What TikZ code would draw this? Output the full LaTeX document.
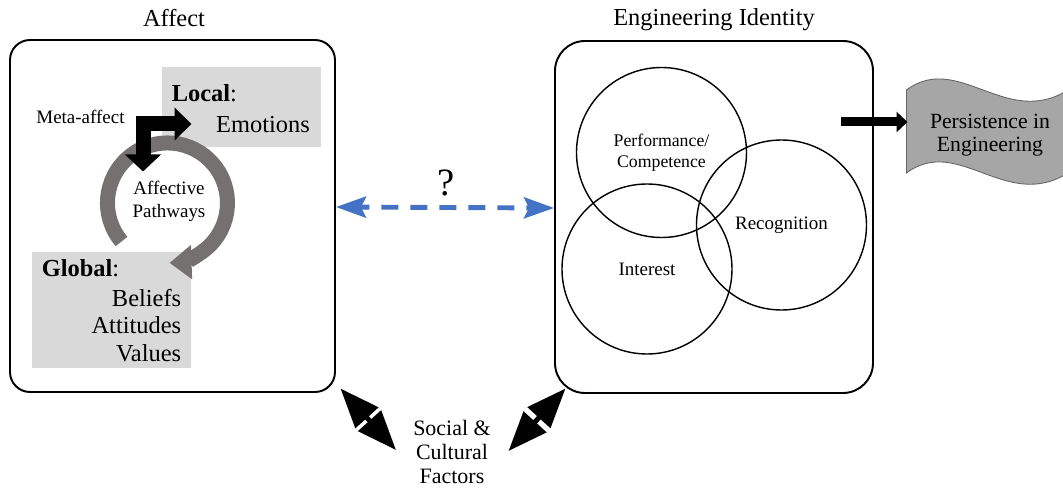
\documentclass[tikz,border=0pt]{standalone}
\usepackage{fontspec}
\setmainfont{Liberation Serif}
\usepackage{tikz}
\usetikzlibrary{arrows.meta}
\definecolor{panelgray}{RGB}{217,217,217}
\definecolor{ringgray}{RGB}{118,113,113}
\definecolor{flaggray}{RGB}{166,166,166}
\definecolor{linkblue}{RGB}{68,114,196}
\tikzset{boxframe/.style={draw, line width=1.1pt, minimum height=7.04cm}}
\tikzset{venn/.style={draw, circle, line width=0.8pt, minimum size=3.4cm, align=center, font=\fontsize{10.8}{13}\selectfont}}
\newcommand{\fsocial}[2]{\draw[line width=2.8pt, {Triangle[length=0.79cm, width=0.6cm]}-{Triangle[length=0.79cm, width=0.6cm]}] (#1) -- (#2);}

\begin{document}
\begin{tikzpicture}
\clip (0,0) rectangle (21.26,9.78);
\node[boxframe, rounded corners=0.4cm, minimum width=6.5cm] (affectbox) at (3.45,5.46) {};
\node[boxframe, rounded corners=0.6cm, minimum width=6.36cm] (identitybox) at (14.28,5.44) {};
\node[font=\fontsize{13.9}{16}\selectfont] (affecttitle) at (3.48,9.42) {Affect};
\node[font=\fontsize{13.9}{16}\selectfont] (identitytitle) at (14.28,9.38) {Engineering Identity};
% local / global panels and the pathway loop
\fill[panelgray] (3.23,6.83) rectangle (6.42,8.43);
\fill[panelgray] (0.63,2.41) rectangle (3.81,4.73);
\draw[ringgray, line width=0.3cm, -{Triangle[length=0.44cm, width=0.66cm]}] (2.43,4.95) arc[start angle=220, end angle=-88, radius=1.2];
\coordinate (metatip) at (2.86,6.35);
\coordinate (localtip) at (3.83,7.30);
\draw[line width=0.3cm, line join=miter, {Triangle[length=0.34cm, width=0.7cm]}-{Triangle[length=0.34cm, width=0.64cm]}] (metatip) |- (localtip);
\node[anchor=west, inner sep=0, font=\fontsize{13.9}{16}\selectfont] (local) at (3.43,7.92) {\textbf{Local}:};
\node[inner sep=0, font=\fontsize{13.9}{16}\selectfont] (emotions) at (5.26,7.28) {Emotions};
\node[font=\fontsize{10.8}{13}\selectfont] (meta) at (1.61,7.44) {Meta-affect};
\node[anchor=west, inner sep=0, font=\fontsize{13.9}{16}\selectfont] (global) at (0.83,4.42) {\textbf{Global}:};
\node[anchor=east, inner sep=0, align=right, font=\fontsize{13.9}{15.6}\selectfont] (beliefs) at (3.63,3.27) {Beliefs\\Attitudes\\Values};
\node[align=center, font=\fontsize{10.8}{13.1}\selectfont] (pathways) at (3.38,5.75) {Affective\\Pathways};
% identity circles
\node[venn, font=\fontsize{10.1}{12}\selectfont] (competence) at (13.23,6.73) {Performance/\\Competence};
\node[venn] (interest) at (12.94,4.40) {Interest};
\node[venn] (recognition) at (15.63,5.28) {Recognition};
\draw[linkblue, line width=2.8pt, dash pattern=on 9.7pt off 6.8pt, dash phase=4pt, {Stealth[length=0.6cm, width=0.42cm, inset=0.1cm]}-{Stealth[length=0.6cm, width=0.42cm, inset=0.1cm]}] ([yshift=0.18cm]affectbox.east) -- ([yshift=0.18cm]identitybox.west);
\node[font=\fontsize{22}{26}\selectfont] (unknown) at (8.92,6.12) {?};
\filldraw[fill=flaggray, draw=gray!80!black, line width=0.5pt] (18.13,7.98) .. controls (19.2,8.78) and (20.2,7.08) .. (21.5,8.08) -- (21.5,6.42) .. controls (20.2,5.42) and (19.2,7.12) .. (18.13,6.32) -- cycle;
\node[align=center, font=\fontsize{12.35}{13.3}\selectfont] (persist) at (19.8,7.08) {Persistence in\\Engineering};
\coordinate (idout) at (16.81,7.34);
\coordinate (flagin) at (18.15,7.34);
\draw[line width=0.18cm, -{Triangle[length=0.22cm, width=0.4cm]}] (idout) -- (flagin);
\node[align=center, font=\fontsize{12.5}{13.9}\selectfont] (social) at (9.04,0.74) {Social \&\\Cultural\\Factors};
\coordinate (affectcorner) at (6.81,2.01);
\coordinate (socialleft) at (7.92,0.78);
\coordinate (identitycorner) at (11.31,2.01);
\coordinate (socialright) at (10.17,0.76);
\fsocial{affectcorner}{socialleft}
\fsocial{identitycorner}{socialright}
\end{tikzpicture}
\end{document}
